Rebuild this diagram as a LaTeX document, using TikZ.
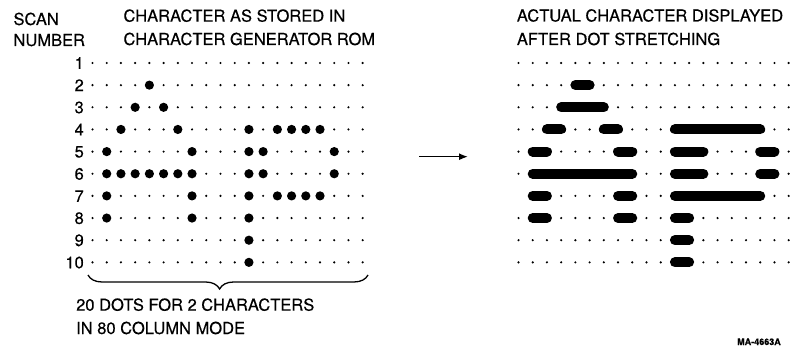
\documentclass[tikz,border=0pt]{standalone}
\usepackage{fontspec}
\setmainfont{TeX Gyre Heros}[FakeBold=0.35]
\usetikzlibrary{arrows.meta,decorations.pathreplacing}
\begin{document}
\begin{tikzpicture}[x=1pt,y=-1pt,
  lbl/.style={anchor=base west, inner sep=0pt, font=\fontsize{16.5}{18}\selectfont},
  num/.style={anchor=base east, inner sep=0pt, font=\fontsize{16.5}{18}\selectfont},
  tag/.style={anchor=base west, inner sep=0pt, font=\fontsize{9}{10}\selectfont\bfseries},
  bar/.style={line width=10pt, line cap=round},
]
\useasboundingbox (0,0) rectangle (793,350);
% headings
\node[lbl] (scan) at (13.3,25) {SCAN};
\node[lbl] (number) at (13.3,46) {NUMBER};
\node[lbl] (h1) at (123.3,21.7) {CHARACTER AS STORED IN};
\node[lbl] (h2) at (123.3,45) {CHARACTER GENERATOR ROM};
\node[lbl] (h3) at (516.7,21.5) {ACTUAL CHARACTER DISPLAYED};
\node[lbl] (h4) at (516.7,45) {AFTER DOT STRETCHING};
\node[lbl] (f1) at (76,310.7) {20 DOTS FOR 2 CHARACTERS};
\node[lbl] (f2) at (76,334) {IN 80 COLUMN MODE};
\node[tag] (ma) at (737,345) {MA-4663A};
% grids of small dots and scan numbers
\foreach \r in {1,...,10}{
  \pgfmathsetmacro{\yy}{63+(\r-1)*22.15}
  \node[num] (n\r) at (84,\yy+5.9) {\r};
  \foreach \c in {0,...,19}{
    \fill ({92.5+\c*14.22},\yy) circle (1.2pt);
    \ifnum\numexpr\r*100+\c\relax=700 \else
      \fill ({518.5+\c*14.22},\yy) circle (1.2pt);
    \fi
  }
}
% stored dots
\foreach \r/\cs in {2/{4},3/{3,5},4/{2,6,11,13,14,15,16},5/{1,7,11,12,17},6/{1,2,3,4,5,6,7,11,12,17},7/{1,7,11,13,14,15,16},8/{1,7,11},9/{11},10/{11}}{
  \foreach \c in \cs {
    \fill ({92.5+\c*14.22},{63+(\r-1)*22.15}) circle (4.6pt);
  }
}
% stretched dots
\foreach \r/\a/\b in {2/4/5,3/3/6,4/2/3,4/6/7,4/11/17,5/1/2,5/7/8,5/11/13,5/17/18,6/1/8,6/11/13,6/17/18,7/1/2,7/7/8,7/11/17,8/1/2,8/7/8,8/11/12,9/11/12,10/11/12}{
  \draw[bar] ({518.5+\a*14.22},{63+(\r-1)*22.15}) -- ({518.5+\b*14.22},{63+(\r-1)*22.15});
}
% arrow
\coordinate (as) at (419,156.7);
\coordinate (ae) at (468,156.7);
\draw[line width=1.5pt,-{Latex[length=9pt,width=7pt]}] (as) -- (ae);
% brace
\coordinate (bl) at (88,275);
\coordinate (br) at (368,275);
\draw[line width=1.3pt, decorate, decoration={brace,mirror,amplitude=14pt,aspect=0.47}] (bl) -- (br);
\end{tikzpicture}
\end{document}
